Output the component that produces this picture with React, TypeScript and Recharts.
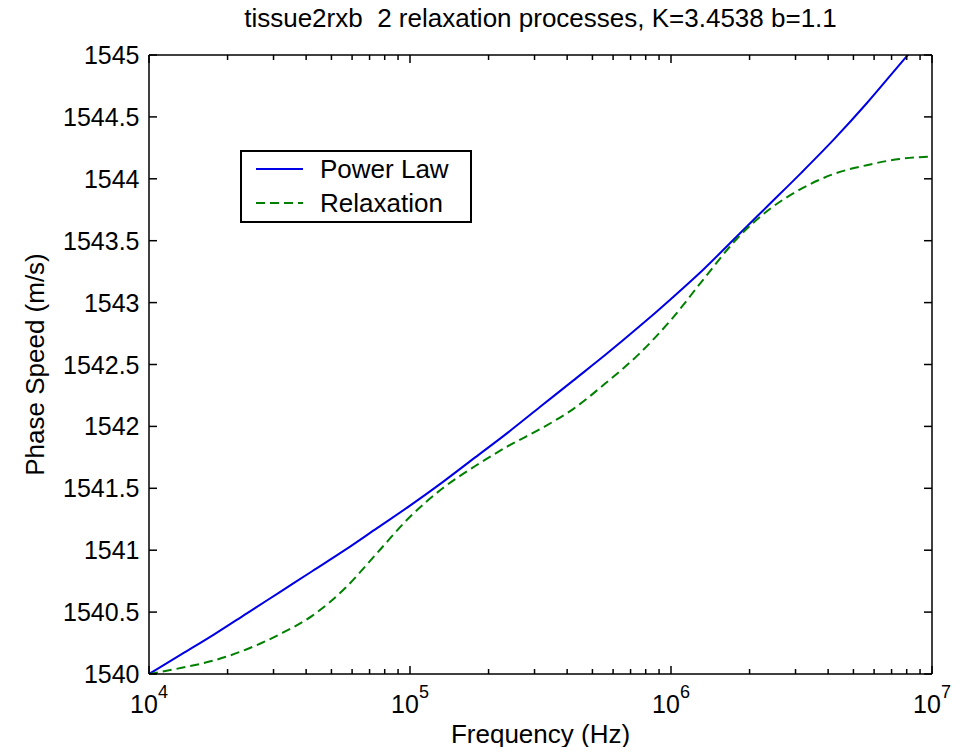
import React from 'react';
import { LineChart, Line, XAxis, YAxis, Legend } from 'recharts';

const FONT = '"Liberation Sans", Arial, Helvetica, sans-serif';

// frequency grid (Hz), log spaced
const freqHz = [
  1e4, 1.334e4, 1.778e4, 2.371e4, 3.162e4, 4.217e4, 5.623e4, 7.499e4,
  1e5, 1.334e5, 1.778e5, 2.371e5, 3.162e5, 4.217e5, 5.623e5, 7.499e5,
  1e6, 1.334e6, 1.778e6, 2.371e6, 3.162e6, 4.217e6, 5.623e6, 7.499e6,
  1e7,
];

// phase speed (m/s)
const powerLaw = [
  1540.0, 1540.16, 1540.32, 1540.49, 1540.66, 1540.83, 1541.0, 1541.18,
  1541.36, 1541.55, 1541.75, 1541.95, 1542.16, 1542.37, 1542.58, 1542.8,
  1543.03, 1543.27, 1543.53, 1543.79, 1544.05, 1544.32, 1544.61, 1544.92,
  1545.23,
];
const relaxation = [
  1540.0, 1540.05, 1540.11, 1540.2, 1540.32, 1540.47, 1540.69, 1540.98,
  1541.27, 1541.5, 1541.68, 1541.84, 1541.98, 1542.14, 1542.35, 1542.58,
  1542.86, 1543.19, 1543.51, 1543.75, 1543.92, 1544.04, 1544.11, 1544.16,
  1544.18,
];

const xTicks = [
  1e4, 2e4, 3e4, 4e4, 5e4, 6e4, 7e4, 8e4, 9e4,
  1e5, 2e5, 3e5, 4e5, 5e5, 6e5, 7e5, 8e5, 9e5,
  1e6, 2e6, 3e6, 4e6, 5e6, 6e6, 7e6, 8e6, 9e6,
  1e7,
];
const majorX = [1e4, 1e5, 1e6, 1e7];
const yTicks = [1540, 1540.5, 1541, 1541.5, 1542, 1542.5, 1543, 1543.5, 1544, 1544.5, 1545];

const title = 'tissue2rxb  2 relaxation processes, K=3.4538 b=1.1';

const series = [
  { key: 'power', name: 'Power Law', color: '#0000e6', dash: undefined as string | undefined },
  { key: 'relax', name: 'Relaxation', color: '#008000', dash: '9 5' },
];

const data = freqHz.map((f, i) => ({ f, power: powerLaw[i], relax: relaxation[i] }));

const AXIS = { stroke: '#000', strokeWidth: 1.5 };

const BottomTick = (props: any) => {
  const { x, y, payload } = props;
  const major = majorX.includes(payload.value);
  return (
    <g>
      <line x1={x} x2={x} y1={y} y2={y - (major ? 8 : 5)} stroke="#000" strokeWidth={1.5} />
      {major && (
        <text x={x} y={y + 39} textAnchor="middle" fontSize={25} fontFamily={FONT} fill="#000">
          10
          <tspan dy={-15} fontSize={18}>
            {Math.round(Math.log10(payload.value))}
          </tspan>
        </text>
      )}
    </g>
  );
};

const TopTick = (props: any) => {
  const { x, y, payload } = props;
  const major = majorX.includes(payload.value);
  return <line x1={x} x2={x} y1={y} y2={y + (major ? 8 : 5)} stroke="#000" strokeWidth={1.5} />;
};

const LeftTick = (props: any) => {
  const { x, y, payload } = props;
  return (
    <g>
      <line x1={x} x2={x + 8} y1={y} y2={y} stroke="#000" strokeWidth={1.5} />
      <text x={x - 9.5} y={y + 9} textAnchor="end" fontSize={25} fontFamily={FONT} fill="#000">
        {payload.value}
      </text>
    </g>
  );
};

const RightTick = (props: any) => {
  const { x, y } = props;
  return <line x1={x} x2={x - 8} y1={y} y2={y} stroke="#000" strokeWidth={1.5} />;
};

const XTitle = (props: any) => {
  const vb = props.viewBox;
  return (
    <text x={vb.x + vb.width / 2} y={vb.y + 69} textAnchor="middle" fontSize={26} fontFamily={FONT} fill="#000">
      Frequency (Hz)
    </text>
  );
};

const YTitle = (props: any) => {
  const vb = props.viewBox;
  const cx = vb.x + 35.5;
  const cy = vb.y + vb.height / 2;
  return (
    <text x={cx} y={cy} transform={`rotate(-90, ${cx}, ${cy})`} textAnchor="middle" fontSize={26} fontFamily={FONT} fill="#000">
      Phase Speed (m/s)
    </text>
  );
};

const LegendBox = () => (
  <div
    style={{
      width: 232,
      height: 73,
      border: '2px solid #000',
      boxSizing: 'border-box',
      background: '#fff',
      fontFamily: FONT,
      fontSize: 26,
      color: '#000',
    }}
  >
    {series.map((s) => (
      <div key={s.key} style={{ display: 'flex', alignItems: 'center', height: 34 }}>
        <svg width={47} height={6} style={{ marginLeft: 14, marginRight: 17 }}>
          <line x1={0} x2={47} y1={3} y2={3} stroke={s.color} strokeWidth={2} strokeDasharray={s.dash} />
        </svg>
        <span>{s.name}</span>
      </div>
    ))}
  </div>
);

export default function App() {
  return (
    <div style={{ position: 'relative', width: 951, height: 739 }}>
      <div
        style={{
          position: 'absolute',
          left: 141,
          width: 783,
          top: -3,
          textAlign: 'center',
          fontFamily: FONT,
          fontSize: 26,
          lineHeight: '26px',
          whiteSpace: 'pre',
          color: '#000',
          zIndex: 1,
        }}
      >
        {title}
      </div>
      <LineChart width={951} height={745} data={data} margin={{ top: 46, right: 26, bottom: 0, left: 0 }}>
        <XAxis
          dataKey="f"
          type="number"
          scale="log"
          domain={[1e4, 1e7]}
          allowDataOverflow
          ticks={xTicks}
          interval={0}
          tickSize={0}
          tickMargin={0}
          tickLine={false}
          tick={<BottomTick />}
          axisLine={AXIS}
          height={79}
          label={<XTitle />}
        />
        <XAxis
          xAxisId="top"
          orientation="top"
          dataKey="f"
          type="number"
          scale="log"
          domain={[1e4, 1e7]}
          allowDataOverflow
          ticks={xTicks}
          interval={0}
          tickSize={0}
          tickMargin={0}
          tickLine={false}
          tick={<TopTick />}
          axisLine={AXIS}
          height={1}
        />
        <YAxis
          type="number"
          domain={[1540, 1545]}
          allowDataOverflow
          ticks={yTicks}
          interval={0}
          tickSize={0}
          tickMargin={0}
          tickLine={false}
          tick={<LeftTick />}
          axisLine={AXIS}
          width={141}
          label={<YTitle />}
        />
        <YAxis
          yAxisId="right"
          orientation="right"
          type="number"
          domain={[1540, 1545]}
          allowDataOverflow
          ticks={yTicks}
          interval={0}
          tickSize={0}
          tickMargin={0}
          tickLine={false}
          tick={<RightTick />}
          axisLine={AXIS}
          width={1}
        />
        <Legend
          layout="vertical"
          align="center"
          verticalAlign="middle"
          content={<LegendBox />}
          wrapperStyle={{ left: 232, top: 142, width: 232, height: 73 }}
        />
        {series.map((s) => (
          <Line
            key={s.key}
            dataKey={s.key}
            name={s.name}
            type="monotone"
            stroke={s.color}
            strokeWidth={2}
            strokeDasharray={s.dash}
            dot={false}
            activeDot={false}
            isAnimationActive={false}
          />
        ))}
      </LineChart>
    </div>
  );
}
